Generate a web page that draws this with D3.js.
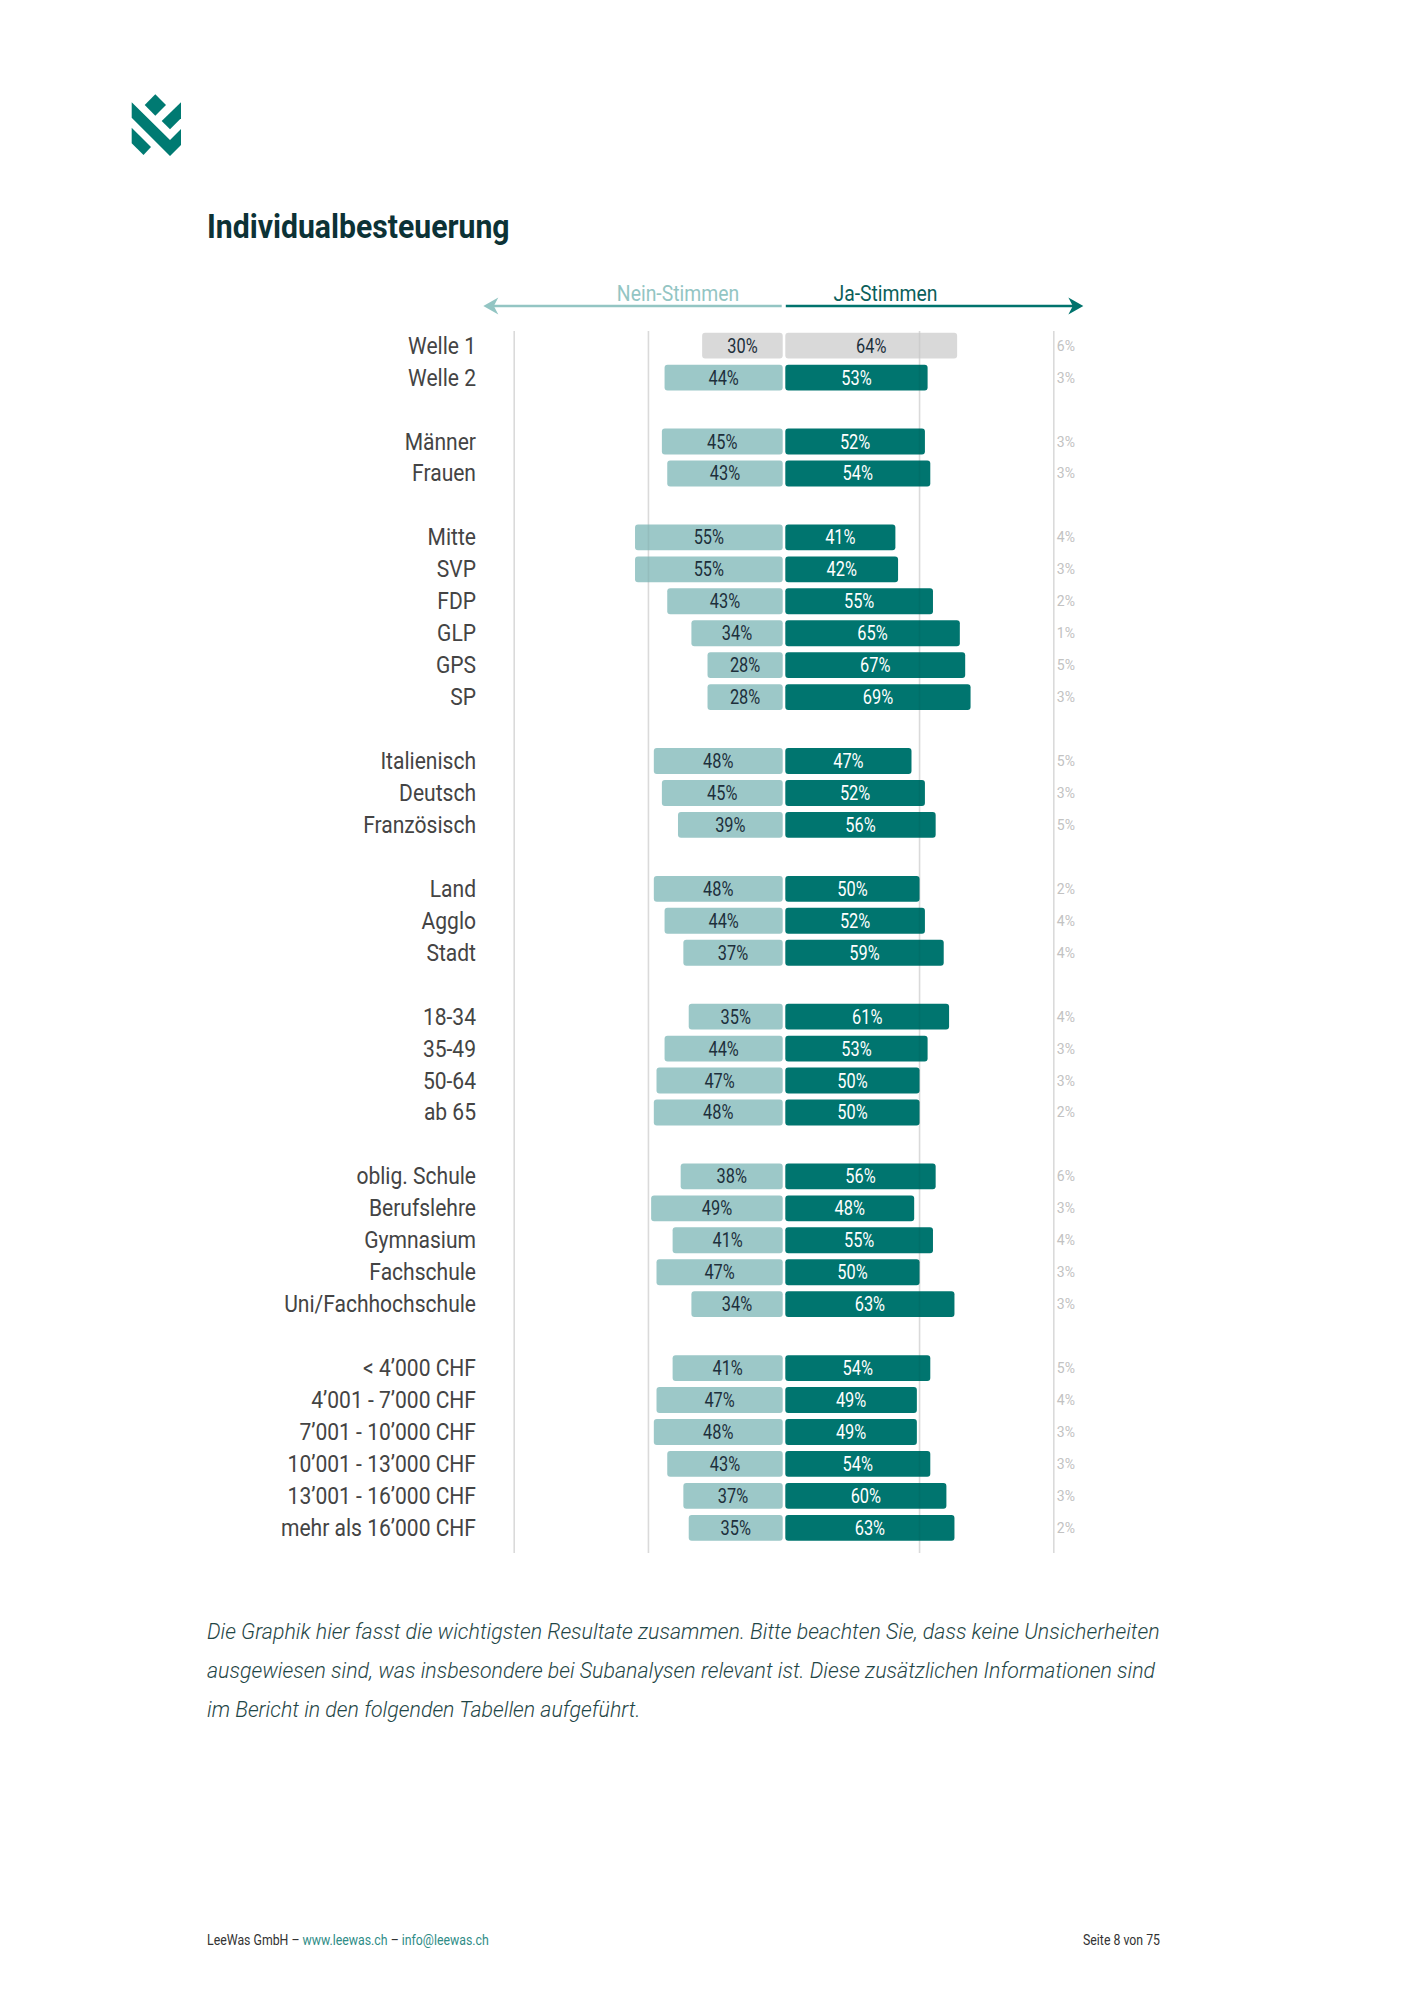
<!DOCTYPE html>
<html>
<head>
<meta charset="utf-8">
<script src="https://cdn.jsdelivr.net/npm/d3@7"></script>
<style>
  html, body { margin: 0; padding: 0; background: #ffffff; }
  svg { display: block; }
  text { font-family: Roboto, "Noto Sans", sans-serif; }
</style>
</head>
<body>
<script>
// ---------------- DATA ----------------
const categories = [
  "Welle 1", "Welle 2",
  "Männer", "Frauen",
  "Mitte", "SVP", "FDP", "GLP", "GPS", "SP",
  "Italienisch", "Deutsch", "Französisch",
  "Land", "Agglo", "Stadt",
  "18-34", "35-49", "50-64", "ab 65",
  "oblig. Schule", "Berufslehre", "Gymnasium", "Fachschule", "Uni/Fachhochschule",
  "< 4’000 CHF", "4’001 - 7’000 CHF", "7’001 - 10’000 CHF", "10’001 - 13’000 CHF", "13’001 - 16’000 CHF", "mehr als 16’000 CHF"
];
const groups = [0,0, 1,1, 2,2,2,2,2,2, 3,3,3, 4,4,4, 5,5,5,5, 6,6,6,6,6, 7,7,7,7,7,7];
const neinValues = [30,44, 45,43, 55,55,43,34,28,28, 48,45,39, 48,44,37, 35,44,47,48, 38,49,41,47,34, 41,47,48,43,37,35];
const jaValues   = [64,53, 52,54, 41,42,55,65,67,69, 47,52,56, 50,52,59, 61,53,50,50, 56,48,55,50,63, 54,49,49,54,60,63];
const unsureValues = [6,3, 3,3, 4,3,2,1,5,3, 5,3,5, 2,4,4, 4,3,3,2, 6,3,4,3,3, 5,4,3,3,3,2];
const gridValues = [50, 100];
const headerLabels = ["Nein-Stimmen", "Ja-Stimmen"];
const titleText = "Individualbesteuerung";
const noteLines = [
  "Die Graphik hier fasst die wichtigsten Resultate zusammen. Bitte beachten Sie, dass keine Unsicherheiten",
  "ausgewiesen sind, was insbesondere bei Subanalysen relevant ist. Diese zusätzlichen Informationen sind",
  "im Bericht in den folgenden Tabellen aufgeführt."
];

// ---------------- STYLE ----------------
const C = {
  ja: "#00756f", nein: "#9cc8c8", grey: "#d9d9d9",
  neinArrow: "#93c5c3", jaArrow: "#00736d",
  title: "#0c3236", label: "#444444", dark: "#1d2f3b",
  unsure: "#c2c2c2", note: "#1f4646", link: "#2e8c86", logo: "#007a72"
};

const W = 1414, H = 2000;
const svg = d3.select("body").append("svg").attr("width", W).attr("height", H);

// helper for condensed text
function cond(sel, x, y, sx) {
  return sel.attr("transform", `translate(${x},${y}) scale(${sx},1)`).attr("x", 0).attr("y", 0);
}

// ---------------- LOGO ----------------
const logoShapes = [
  [[155.3,94.3],[166,105],[155.3,115.7],[144.7,105]],
  [[181,102.3],[181,118.3],[170,129.3],[161.7,121]],
  [[131.7,102.3],[170,140],[181,129],[181,145],[170,156],[131.7,117.7]],
  [[131.7,127.7],[151,147],[143.5,155],[131.7,143.3]]
];
svg.append("g").selectAll("path").data(logoShapes).join("path")
  .attr("d", d => "M" + d.map(p => p.join(",")).join("L") + "Z")
  .attr("fill", C.logo);

// ---------------- TITLE ----------------
cond(svg.append("text"), 207, 238, 0.915)
  .attr("font-size", 33).attr("font-weight", 700).attr("fill", C.title)
  .text(titleText);

// ---------------- SCALES ----------------
const rows = [];
categories.forEach((c, i) => {
  if (i > 0 && groups[i] !== groups[i - 1]) rows.push({ key: "gap" + i, spacer: true });
  rows.push({ key: "row" + i, i });
});
const y = d3.scaleBand()
  .domain(rows.map(r => r.key))
  .range([329.7, 329.7 + rows.length * 31.95])
  .paddingInner(0.19).paddingOuter(0.095);

const center = 784, halfGap = 1.3, span = 268.5;
const xJa = d3.scaleLinear().domain([0, 100]).range([center + halfGap, center + halfGap + span]);
const xNein = d3.scaleLinear().domain([0, 100]).range([center - halfGap, center - halfGap - span]);

const data = categories.map((c, i) => ({
  cat: c, i, key: "row" + i, nein: neinValues[i], ja: jaValues[i], unsure: unsureValues[i]
}));

const gridTop = 331, gridBottom = 1553;

// ---------------- HEADER ARROWS ----------------
const arrowY = 306;
const hdr = svg.append("g");
hdr.append("line").attr("x1", xNein(0) - 1).attr("x2", xNein(109)).attr("y1", arrowY).attr("y2", arrowY)
  .attr("stroke", C.neinArrow).attr("stroke-width", 2.5);
const nTip = xNein(111.5);
hdr.append("path")
  .attr("d", `M${nTip},${arrowY} L${nTip + 15},${arrowY - 8.5} L${nTip + 10.5},${arrowY} L${nTip + 15},${arrowY + 8.5} Z`)
  .attr("fill", C.neinArrow);
hdr.append("line").attr("x1", xJa(0) + 0.5).attr("x2", xJa(108)).attr("y1", arrowY).attr("y2", arrowY)
  .attr("stroke", C.jaArrow).attr("stroke-width", 2.5);
const jTip = xJa(111);
hdr.append("path")
  .attr("d", `M${jTip},${arrowY} L${jTip - 15},${arrowY - 8.5} L${jTip - 10.5},${arrowY} L${jTip - 15},${arrowY + 8.5} Z`)
  .attr("fill", C.jaArrow);

cond(hdr.append("text"), xNein(39), 301, 0.88)
  .attr("text-anchor", "middle").attr("font-size", 22).attr("fill", C.neinArrow).text(headerLabels[0]);
cond(hdr.append("text"), xJa(37.3), 301, 0.88)
  .attr("text-anchor", "middle").attr("font-size", 22).attr("fill", "#0b5f5b").text(headerLabels[1]);

// ---------------- GRID (behind) ----------------
const gridX = [...gridValues.map(v => xNein(v)), ...gridValues.map(v => xJa(v))];
svg.append("g").selectAll("line").data(gridX).join("line")
  .attr("x1", d => d).attr("x2", d => d).attr("y1", gridTop).attr("y2", gridBottom)
  .attr("stroke", "#e6e6e6").attr("stroke-width", 1.6);

// ---------------- BARS ----------------
const bars = svg.append("g");
bars.selectAll("rect.nein").data(data).join("rect").attr("class", "nein")
  .attr("x", d => xNein(d.nein)).attr("width", d => xNein(0) - xNein(d.nein))
  .attr("y", d => y(d.key)).attr("height", y.bandwidth())
  .attr("rx", 3).attr("ry", 3)
  .attr("fill", d => d.i === 0 ? C.grey : C.nein);
bars.selectAll("rect.ja").data(data).join("rect").attr("class", "ja")
  .attr("x", d => xJa(0)).attr("width", d => xJa(d.ja) - xJa(0))
  .attr("y", d => y(d.key)).attr("height", y.bandwidth())
  .attr("rx", 3).attr("ry", 3)
  .attr("fill", d => d.i === 0 ? C.grey : C.ja);

// grid overlay (faint, visible through bars)
svg.append("g").selectAll("line").data(gridX).join("line")
  .attr("x1", d => d).attr("x2", d => d).attr("y1", gridTop).attr("y2", gridBottom)
  .attr("stroke", "#000").attr("stroke-opacity", 0.05).attr("stroke-width", 1.6);

// ---------------- VALUE LABELS ----------------
const lab = svg.append("g");
lab.selectAll("text.nv").data(data).join("text").attr("class", "nv")
  .each(function (d) {
    cond(d3.select(this), (xNein(d.nein) + xNein(0)) / 2, y(d.key) + y.bandwidth() / 2 + 7, 0.84);
  })
  .attr("text-anchor", "middle").attr("font-size", 19.5).attr("fill", C.dark)
  .text(d => d.nein + "%");
lab.selectAll("text.jv").data(data).join("text").attr("class", "jv")
  .each(function (d) {
    cond(d3.select(this), (xJa(d.ja) + xJa(0)) / 2, y(d.key) + y.bandwidth() / 2 + 7, 0.84);
  })
  .attr("text-anchor", "middle").attr("font-size", 19.5)
  .attr("fill", d => d.i === 0 ? C.dark : "#ffffff")
  .text(d => d.ja + "%");
lab.selectAll("text.uv").data(data).join("text").attr("class", "uv")
  .attr("x", xJa(100) + 3).attr("y", d => y(d.key) + y.bandwidth() / 2 + 5)
  .attr("font-size", 14).attr("fill", C.unsure)
  .text(d => d.unsure + "%");

// ---------------- CATEGORY LABELS ----------------
lab.selectAll("text.cat").data(data).join("text").attr("class", "cat")
  .each(function (d) {
    cond(d3.select(this), 476, y(d.key) + y.bandwidth() / 2 + 8, 0.915);
  })
  .attr("text-anchor", "end").attr("font-size", 23).attr("fill", C.label)
  .text(d => d.cat);

// ---------------- NOTE ----------------
noteLines.forEach((t, k) => {
  cond(svg.append("text"), 207, 1639 + k * 39, 0.95)
    .attr("font-size", 22.5).attr("font-style", "italic").attr("font-weight", 300)
    .attr("fill", C.note).text(t);
});

// ---------------- FOOTER ----------------
const f = cond(svg.append("text"), 207, 1945, 0.88).attr("font-size", 14).attr("fill", "#333");
f.append("tspan").text("LeeWas GmbH – ");
f.append("tspan").attr("fill", C.link).text("www.leewas.ch");
f.append("tspan").text(" – ");
f.append("tspan").attr("fill", C.link).text("info@leewas.ch");
cond(svg.append("text"), 1160, 1945, 0.88).attr("font-size", 14).attr("fill", "#333")
  .attr("text-anchor", "end").text("Seite 8 von 75");
</script>
</body>
</html>
